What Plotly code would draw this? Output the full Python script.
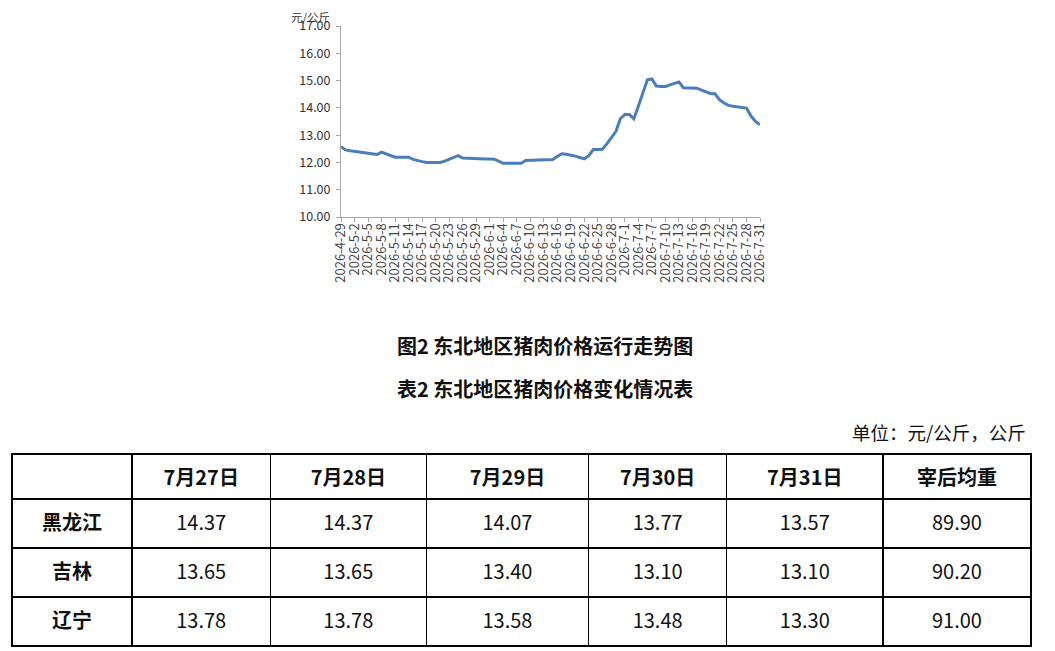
import datetime as dt
import plotly.graph_objects as go

# 日期（2026-4-29 至 2026-7-31，逐日）
start = dt.date(2026, 4, 29)
dates = [(start + dt.timedelta(days=i)) for i in range(94)]
date_labels = [f"{d.year}-{d.month}-{d.day}" for d in dates]

# 东北地区猪肉均价，元/公斤
price = [
    12.58, 12.46, 12.43, 12.41, 12.39, 12.37, 12.35, 12.33, 12.29, 12.38,
    12.32, 12.25, 12.19, 12.19, 12.19, 12.19, 12.11, 12.06, 12.03, 12.00,
    12.00, 12.00, 12.00, 12.05, 12.11, 12.18, 12.25, 12.16, 12.15, 12.15,
    12.14, 12.14, 12.13, 12.13, 12.12, 12.05, 11.97, 11.97, 11.97, 11.97,
    11.97, 12.07, 12.08, 12.09, 12.09, 12.10, 12.10, 12.11, 12.22, 12.32,
    12.30, 12.27, 12.23, 12.18, 12.13, 12.25, 12.47, 12.47, 12.48, 12.68,
    12.90, 13.13, 13.60, 13.76, 13.76, 13.60, 14.06, 14.52, 15.03, 15.06,
    14.80, 14.78, 14.78, 14.84, 14.90, 14.95, 14.74, 14.73, 14.73, 14.72,
    14.65, 14.58, 14.53, 14.52, 14.30, 14.18, 14.09, 14.06, 14.04, 14.02,
    13.99, 13.70, 13.50, 13.38,
]

# 表格数据
table_head = ["", "7月27日", "7月28日", "7月29日", "7月30日", "7月31日", "宰后均重"]
provinces = ["黑龙江", "吉林", "辽宁"]
d0727 = ["14.37", "13.65", "13.78"]
d0728 = ["14.37", "13.65", "13.78"]
d0729 = ["14.07", "13.40", "13.58"]
d0730 = ["13.77", "13.10", "13.48"]
d0731 = ["13.57", "13.10", "13.30"]
weight = ["89.90", "90.20", "91.00"]

FONT = "Noto Sans CJK SC, Noto Sans, sans-serif"
W, H = 1055, 651
OFF = 8  # 页面 body 自带 8px 边距


def px(x):
    return (x - OFF) / W


def py(y):
    return 1 - (y - OFF) / H


def span(s):
    # 让普通文字和加粗文字走同一种排版，垂直位置一致
    return f"<span>{s}</span>"


fig = go.Figure()

fig.add_trace(go.Scatter(
    x=date_labels, y=price, mode="lines",
    line=dict(color="#4A7EBB", width=3),
    showlegend=False, hoverinfo="x+y",
))

fig.add_trace(go.Table(
    domain=dict(x=[px(12), px(1031)], y=[py(650), py(454)]),
    columnwidth=[120, 138, 156, 162, 138, 156, 148],
    header=dict(
        values=[f"<b>{h}</b>" if h else "" for h in table_head],
        align="center", height=44,
        line=dict(color="black", width=1.3), fill=dict(color="white"),
        font=dict(family=FONT, size=20, color="#111111"),
    ),
    cells=dict(
        values=[[f"<b>{p}</b>" for p in provinces]]
        + [[span(v) for v in col] for col in (d0727, d0728, d0729, d0730, d0731, weight)],
        align="center", height=49,
        line=dict(color="black", width=1.3), fill=dict(color="white"),
        font=dict(family=FONT, size=20, color="#111111"),
    ),
))

fig.update_xaxes(
    type="category", domain=[px(341), px(760)], range=[0, 93], automargin=False,
    tickmode="array", tickvals=date_labels[::3], ticktext=date_labels[::3],
    tickangle=-90, tickfont=dict(family=FONT, size=13, color="#444444"),
    ticklabelstandoff=-4,
    showline=True, linecolor="#A6A6A6", linewidth=1,
    ticks="outside", ticklen=4, tickcolor="#A6A6A6",
    showgrid=False, zeroline=False,
)
fig.update_yaxes(
    domain=[py(217), py(26)], range=[10, 17], dtick=1, automargin=False,
    tickformat=".2f", tickfont=dict(family=FONT, size=12.5, color="#333333"),
    ticklabelstandoff=3,
    showline=True, linecolor="#A6A6A6", linewidth=1,
    ticks="outside", ticklen=4, tickcolor="#A6A6A6",
    showgrid=False, zeroline=False,
)

fig.add_annotation(text="元/公斤", x=px(331), y=1, xref="paper", yref="paper",
                   xanchor="right", yanchor="top", showarrow=False, borderpad=0,
                   font=dict(family=FONT, size=11.5, color="#333333"))
fig.add_annotation(text="<b>图2 东北地区猪肉价格运行走势图</b>", x=px(545), y=py(345),
                   xref="paper", yref="paper", xanchor="center", yanchor="middle",
                   showarrow=False, font=dict(family=FONT, size=20, color="#111111"))
fig.add_annotation(text="<b>表2 东北地区猪肉价格变化情况表</b>", x=px(545), y=py(388),
                   xref="paper", yref="paper", xanchor="center", yanchor="middle",
                   showarrow=False, font=dict(family=FONT, size=20, color="#111111"))
fig.add_annotation(text="单位：元/公斤，公斤", x=px(1028), y=py(432),
                   xref="paper", yref="paper", xanchor="right", yanchor="middle",
                   showarrow=False, font=dict(family=FONT, size=18.5, color="#111111"))

fig.update_layout(
    width=W, height=H,
    margin=dict(l=0, r=0, t=0, b=0),
    paper_bgcolor="white", plot_bgcolor="white",
    font=dict(family=FONT),
)

fig.write_html("out.html")
